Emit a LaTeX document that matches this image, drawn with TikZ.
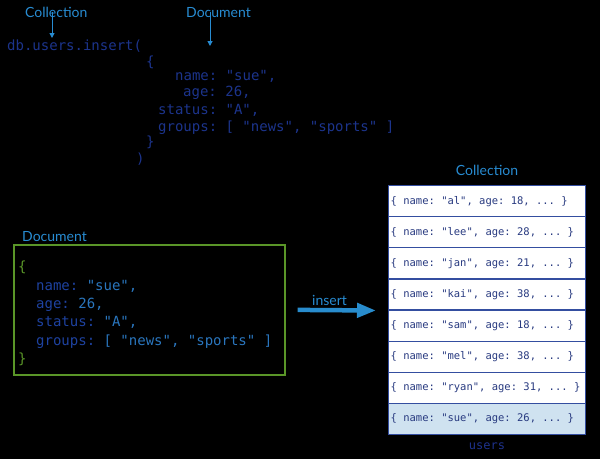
\documentclass[tikz,border=0pt]{standalone}
\usepackage{fontspec}
\setmonofont{DejaVu Sans Mono}
\setsansfont{Lato}
\usetikzlibrary{arrows.meta}
\definecolor{labelblue}{RGB}{40,140,210}
\definecolor{codedark}{RGB}{28,52,140}
\definecolor{keyblue}{RGB}{30,66,160}
\definecolor{valblue}{RGB}{42,118,190}
\definecolor{docgreen}{RGB}{90,150,40}
\definecolor{rowborder}{RGB}{52,78,160}
\definecolor{rowtext}{RGB}{40,58,128}
\definecolor{lastfill}{RGB}{207,226,240}
\definecolor{usersblue}{RGB}{30,50,140}
\definecolor{arrowblue}{RGB}{40,140,205}
\begin{document}
\begin{tikzpicture}[x=1pt,y=-1pt,
  lbl/.style={font=\sffamily\fontsize{14}{14}\selectfont, text=labelblue, inner sep=0pt, anchor=base west},
  code/.style={font=\ttfamily\fontsize{14}{14}\selectfont, text=codedark, inner sep=0pt, anchor=base west},
  bcode/.style={font=\ttfamily\fontsize{14}{14}\selectfont, text=keyblue, inner sep=0pt, anchor=base west},
  smallarr/.style={draw=labelblue, line width=1pt, -{Triangle[width=5pt,length=5pt]}},
  row/.style={draw=rowborder, line width=1.2pt, fill=white, anchor=north west, minimum width=197pt, minimum height=31.1pt, inner sep=0pt},
  rowtxt/.style={anchor=west, inner sep=0pt, text=rowtext, font=\ttfamily\fontsize{10.5}{10.5}\selectfont},
  bigarr/.style={draw=arrowblue, line width=4.5pt, -{Triangle[width=14pt,length=19pt]}}
]
\fill[black] (0,0) rectangle (600,459);
\useasboundingbox (0,0) rectangle (600,459);

% top code
\node[lbl] (lcoll) at (25,17) {Collection};
\node[lbl] (ldoc) at (186,17) {Document};
\node[code] (c1) at (7,50) {db.users.insert(};
\node[code] (c2) at (146,66) {\{};
\node[code] (c3) at (175,80) {name: "sue",};
\node[code] (c4) at (183,96) {age: 26,};
\node[code] (c5) at (158,114) {status: "A",};
\node[code] (c6) at (158,131) {groups: [ "news", "sports" ]};
\node[code] (c7) at (146,146) {\}};
\node[code] (c8) at (136,163) {)};
\coordinate (collT) at (52,38);
\coordinate (docT) at (210,46);
\draw[smallarr] ([yshift=5pt]lcoll.south -| collT) -- (collT);
\draw[smallarr] ([yshift=5pt]ldoc.south -| docT) -- (docT);

% document box
\node[lbl] (ldoc2) at (22,241) {Document};
\node[draw=docgreen, line width=1.6pt, anchor=north west, minimum width=271pt, minimum height=130pt, inner sep=0pt] (doc) at (13,244) {};
\node[bcode, text=docgreen] (d1) at (18,271) {\{};
\node[bcode] (d2) at (36,290) {name: {\color{valblue}"sue",}};
\node[bcode] (d3) at (36,308) {age: {\color{valblue}26,}};
\node[bcode] (d4) at (36,326) {status: {\color{valblue}"A",}};
\node[bcode] (d5) at (36,345) {groups: {\color{valblue}[ "news", "sports" ]}};
\node[bcode, text=docgreen] (d6) at (18,363) {\}};

% collection
\node[font=\sffamily\fontsize{14}{14}\selectfont, text=labelblue, inner sep=0pt, anchor=base] (lcoll2) at (487,175) {Collection};
\node[row] (r1) at (388,185) {};
\node[row] (r2) at (388,216.1) {};
\node[row] (r3) at (388,247.2) {};
\node[row] (r4) at (388,278.3) {};
\node[row] (r5) at (388,309.4) {};
\node[row] (r6) at (388,340.5) {};
\node[row] (r7) at (388,371.6) {};
\node[row, fill=lastfill] (r8) at (388,402.7) {};
\node[rowtxt] (t1) at ([xshift=2.5pt]r1.west) {\{ name: "al", age: 18, ... \}};
\node[rowtxt] (t2) at ([xshift=2.5pt]r2.west) {\{ name: "lee", age: 28, ... \}};
\node[rowtxt] (t3) at ([xshift=2.5pt]r3.west) {\{ name: "jan", age: 21, ... \}};
\node[rowtxt] (t4) at ([xshift=2.5pt]r4.west) {\{ name: "kai", age: 38, ... \}};
\node[rowtxt] (t5) at ([xshift=2.5pt]r5.west) {\{ name: "sam", age: 18, ... \}};
\node[rowtxt] (t6) at ([xshift=2.5pt]r6.west) {\{ name: "mel", age: 38, ... \}};
\node[rowtxt] (t7) at ([xshift=2.5pt]r7.west) {\{ name: "ryan", age: 31, ... \}};
\node[rowtxt] (t8) at ([xshift=2.5pt]r8.west) {\{ name: "sue", age: 26, ... \}};
\node[font=\ttfamily\fontsize{12}{12}\selectfont, text=usersblue, inner sep=0pt, anchor=base] (users) at (487,449) {users};

% insert arrow
\draw[bigarr, shorten <=12pt, shorten >=12pt] (doc.east) -- (r4.south west);
\node[lbl] (ins) at (312,305) {insert};
\end{tikzpicture}
\end{document}
